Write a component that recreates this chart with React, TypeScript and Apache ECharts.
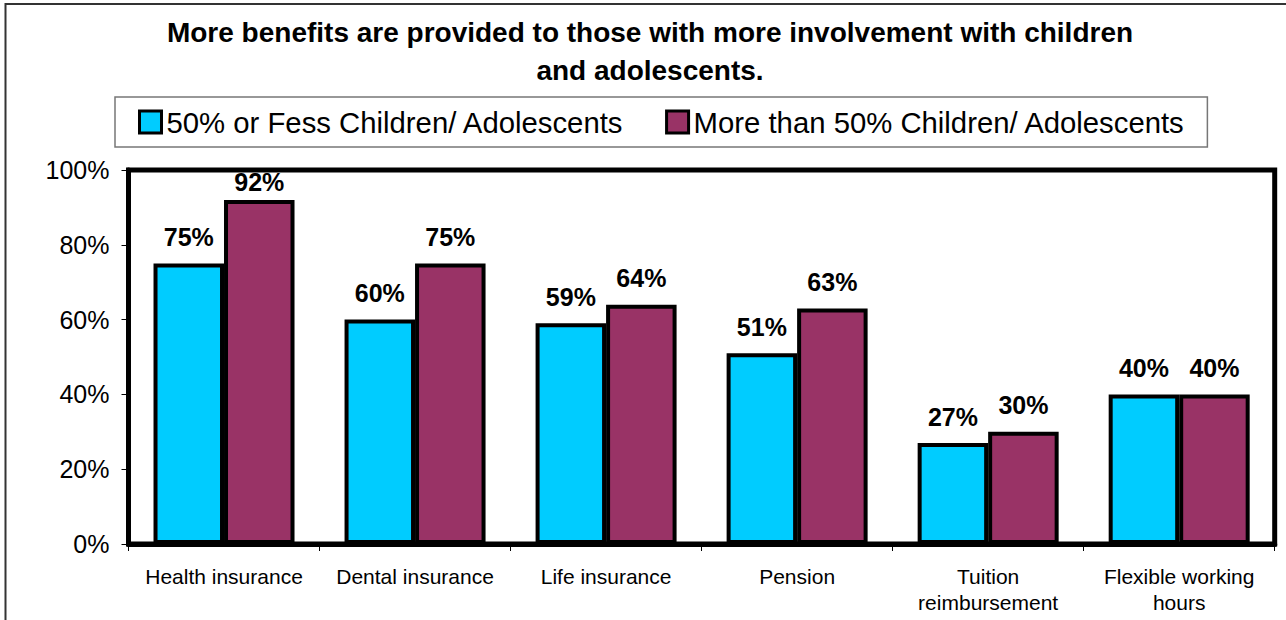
import React, { useEffect, useRef } from "react";
import * as echarts from "echarts";

const categories = [
  "Health insurance",
  "Dental insurance",
  "Life insurance",
  "Pension",
  "Tuition\nreimbursement",
  "Flexible working\nhours",
];
const lessOrEqualHalf = [75, 60, 59, 51, 27, 40];
const moreThanHalf = [92, 75, 64, 63, 30, 40];
const seriesNames = [
  "50% or Fess Children/ Adolescents",
  "More than 50% Children/ Adolescents",
];
const titleText =
  "More benefits are provided to those with more involvement with children\nand adolescents.";

const FONT = 'Arial, "Liberation Sans", sans-serif';

// Labels near the top of the plot are pulled closer to their bar so they stay inside the frame.
const withLabelFit = (values: number[]) =>
  values.map((v) => (v > 88 ? { value: v, label: { distance: 5 } } : v));

export default function App() {
  const ref = useRef<HTMLDivElement>(null);

  useEffect(() => {
    document.body.style.margin = "0";
    if (!ref.current) return;
    const chart = echarts.init(ref.current, undefined, { renderer: "svg" });

    const labelStyle = {
      show: true,
      position: "top" as const,
      distance: 14,
      formatter: "{c}%",
      color: "#000",
      fontFamily: FONT,
      fontWeight: "bold" as const,
      fontSize: 25,
    };

    chart.setOption({
      animation: false,
      backgroundColor: "#fff",
      textStyle: { fontFamily: FONT },
      title: {
        text: titleText,
        left: 650,
        textAlign: "center",
        top: 13,
        padding: 0,
        textStyle: {
          fontFamily: FONT,
          fontWeight: "bold",
          fontSize: 28,
          lineHeight: 38,
          color: "#000",
        },
      },
      graphic: [
        {
          type: "rect",
          shape: { x: 5.5, y: 4, width: 1400, height: 800 },
          style: { fill: "none", stroke: "#333", lineWidth: 2 },
          silent: true,
        },
      ],
      legend: {
        left: 115,
        top: 97,
        orient: "horizontal",
        padding: [10, 22, 10, 23],
        borderColor: "#777",
        borderWidth: 1.5,
        itemWidth: 22,
        itemHeight: 22,
        itemGap: 41,
        icon: "rect",
        itemStyle: { borderColor: "#000", borderWidth: 3 },
        textStyle: {
          fontFamily: FONT,
          fontSize: 29.3,
          lineHeight: 30,
          color: "#000",
        },
        data: seriesNames,
      },
      grid: {
        left: 128.5,
        top: 170,
        right: 11.3,
        bottom: 76,
        show: true,
        borderColor: "#000",
        borderWidth: 5,
        containLabel: false,
      },
      xAxis: {
        type: "category",
        data: categories,
        axisLine: { show: true, lineStyle: { color: "#000", width: 5 } },
        axisTick: {
          show: true,
          inside: false,
          length: 7,
          lineStyle: { color: "#000", width: 1 },
        },
        axisLabel: {
          color: "#000",
          fontFamily: FONT,
          fontSize: 21,
          lineHeight: 26,
          margin: 19,
          interval: 0,
        },
        splitLine: { show: false },
      },
      yAxis: {
        type: "value",
        min: 0,
        max: 100,
        interval: 20,
        axisLine: { show: true, lineStyle: { color: "#000", width: 5 } },
        axisTick: {
          show: true,
          inside: false,
          length: 7,
          lineStyle: { color: "#000", width: 1 },
        },
        axisLabel: {
          color: "#000",
          fontFamily: FONT,
          fontSize: 25,
          margin: 19,
          formatter: "{value}%",
        },
        splitLine: { show: false },
      },
      series: [
        {
          name: seriesNames[0],
          type: "bar",
          data: withLabelFit(lessOrEqualHalf),
          barWidth: 70.5,
          barGap: "0%",
          itemStyle: { color: "#00CCFF", borderColor: "#000", borderWidth: 4 },
          label: labelStyle,
        },
        {
          name: seriesNames[1],
          type: "bar",
          data: withLabelFit(moreThanHalf),
          barWidth: 70.5,
          barGap: "0%",
          itemStyle: { color: "#993366", borderColor: "#000", borderWidth: 4 },
          label: labelStyle,
        },
      ],
    });

    return () => chart.dispose();
  }, []);

  return <div ref={ref} style={{ width: 1286, height: 620 }} />;
}
